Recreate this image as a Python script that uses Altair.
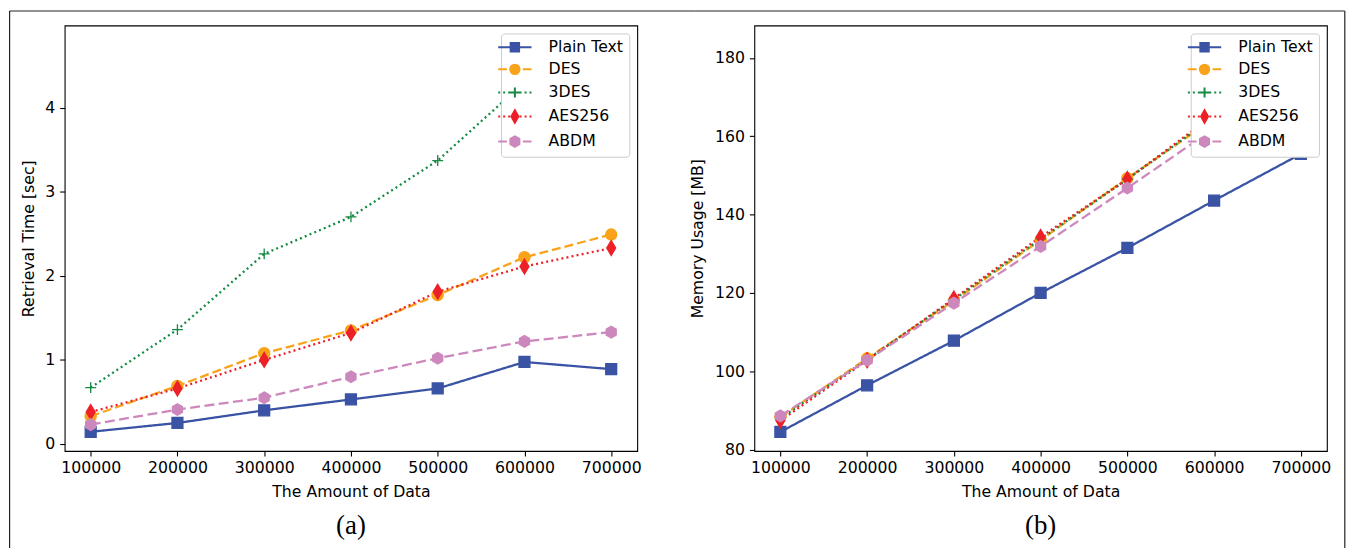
import altair as alt
import pandas as pd

# ---------------- data ----------------
x_vals = [100000, 200000, 300000, 400000, 500000, 600000, 700000]
series = ["Plain Text", "DES", "3DES", "AES256", "ABDM"]

time_plain = [0.145, 0.25, 0.40, 0.53, 0.66, 0.975, 0.89]
time_des = [0.33, 0.69, 1.08, 1.35, 1.77, 2.22, 2.49]
time_3des = [0.67, 1.36, 2.26, 2.70, 3.37, 4.30, 4.75]
time_aes = [0.38, 0.66, 1.00, 1.32, 1.81, 2.11, 2.33]
time_abdm = [0.23, 0.41, 0.55, 0.80, 1.02, 1.22, 1.33]

mem_plain = [84.5, 96.4, 107.8, 120.0, 131.5, 143.6, 155.5]
mem_des = [88.3, 103.3, 118.0, 133.5, 149.3, 164.5, 180.0]
mem_3des = [88.0, 103.0, 118.3, 133.8, 149.0, 165.0, 181.5]
mem_aes = [87.4, 102.8, 118.6, 134.3, 149.1, 165.5, 183.4]
mem_abdm = [88.6, 102.8, 117.4, 131.9, 146.8, 162.0, 177.0]

time_ticks = [0, 1, 2, 3, 4]
mem_ticks = [80, 100, 120, 140, 160, 180]

# ---------------- styles ----------------
colors = ["#3a53a4", "#f9a31b", "#148a43", "#ec2027", "#cc88bd"]
dashes = [[1, 0], [9, 4], [2, 3.2], [2, 3.2], [10, 4.5]]
marker_paths = [
    "M-1.1,-1.1H1.1V1.1H-1.1Z",
    "M1.12,0A1.12,1.12,0,1,1,-1.12,0A1.12,1.12,0,1,1,1.12,0Z",
    "M-1.1,0H1.1M0,-1.1V1.1",
    "M0,-1.5L0.9,0L0,1.5L-0.9,0Z",
    "M0,-1.17L1.01,-0.585L1.01,0.585L0,1.17L-1.01,0.585L-1.01,-0.585Z",
]


def dots(xs):
    return "".join(f"M{x},0h0.4" for x in xs)


legend_paths = [
    "M-3.35,0H3.35M-0.85,-0.85H0.85V0.85H-0.85Z",
    "M-3.35,0H-1.6M1.6,0H3.35M0.95,0A0.95,0.95,0,1,1,-0.95,0A0.95,0.95,0,1,1,0.95,0Z",
    dots([-3.35, -2.35, -1.35, 0.95, 1.95, 2.95]) + "M-1,0H1M0,-1V1",
    dots([-3.35, -2.35, -1.35, 0.95, 1.95, 2.95]) + "M0,-1.25L0.7,0L0,1.25L-0.7,0Z",
    "M-3.35,0H-1.6M1.6,0H3.35M0,-1.05L0.91,-0.525L0.91,0.525L0,1.05L-0.91,0.525L-0.91,-0.525Z",
]

FONT = "DejaVu Sans"
FS = 15.8
PANEL_GAP = 117.8


def panel(ydata, ytitle, ydomain, yticks, ytitlex, caption, top_x, top_x2, side_x):
    rows = []
    for s, vals in zip(series, ydata):
        for xv, yv in zip(x_vals, vals):
            rows.append({"amount": xv, "value": yv, "series": s})
    df = pd.DataFrame(rows)

    xenc = alt.X(
        "amount:Q",
        scale=alt.Scale(domain=[70000, 730000], nice=False, zero=False),
        axis=alt.Axis(values=x_vals, format="d", title="The Amount of Data",
                      titleY=40.6, titleBaseline="middle", labelFlush=False,
                      labelPadding=5),
    )
    yenc = alt.Y(
        "value:Q",
        scale=alt.Scale(domain=ydomain, nice=False, zero=False),
        axis=alt.Axis(values=yticks, title=ytitle, titleX=ytitlex,
                      titleBaseline="middle", labelPadding=5),
    )
    legend = alt.Legend(
        title=None, orient="top-right", offset=8, padding=6,
        fillColor="white", strokeColor="#cccccc", cornerRadius=3,
        labelFont=FONT, labelFontSize=FS, labelColor="black",
        symbolSize=100, labelOffset=26, rowPadding=4.2,
        symbolStrokeWidth=2, symbolOpacity=1,
    )
    col_scale = alt.Scale(domain=series, range=colors)

    base = alt.Chart(df)
    lines = base.mark_line(strokeWidth=2.3).encode(
        x=xenc, y=yenc,
        stroke=alt.Stroke("series:N", scale=col_scale, sort=series, legend=None),
        strokeDash=alt.StrokeDash("series:N", scale=alt.Scale(domain=series, range=dashes),
                                  sort=series, legend=None),
    )
    points = base.mark_point(filled=True, size=100, strokeWidth=1.3, opacity=1).encode(
        x=xenc, y=yenc,
        fill=alt.Fill("series:N", scale=col_scale, sort=series, legend=None),
        stroke=alt.Stroke("series:N", scale=col_scale, sort=series, legend=None),
        shape=alt.Shape("series:N", scale=alt.Scale(domain=series, range=marker_paths),
                        sort=series, legend=None),
    )
    legend_layer = base.transform_filter("false").mark_point(
        filled=True, size=100, strokeWidth=2, opacity=1).encode(
        x=xenc, y=yenc,
        fill=alt.Fill("series:N", scale=col_scale, sort=series, legend=legend),
        stroke=alt.Stroke("series:N", scale=col_scale, sort=series, legend=legend),
        shape=alt.Shape("series:N", scale=alt.Scale(domain=series, range=legend_paths),
                        sort=series, legend=legend),
    )

    fdf = pd.DataFrame({"frame": [0]})
    frame_top = alt.Chart(fdf).mark_rule(color="#222222", strokeWidth=1.2).encode(
        x=alt.value(top_x), x2=alt.value(top_x2), y=alt.value(-14.6))
    frame_side = alt.Chart(fdf).mark_rule(color="#222222", strokeWidth=1.2).encode(
        x=alt.value(side_x), y=alt.value(-14.6), y2=alt.value(526))

    return alt.layer(frame_top, frame_side, lines, points, legend_layer).resolve_scale(
        shape="independent", fill="independent", stroke="independent"
    ).properties(
        width=576, height=428,
        title=alt.TitleParams(caption, orient="bottom", anchor="middle",
                              font="Liberation Serif", fontSize=27,
                              fontWeight="normal", color="black", offset=-36,
                              frame="group"),
    )


left = panel([time_plain, time_des, time_3des, time_aes, time_abdm],
             "Retrieval Time [sec]", [-0.083, 4.975], time_ticks, -36.8, "(a)",
             -55.4, 576 + PANEL_GAP / 2, -55.4)
right = panel([mem_plain, mem_des, mem_3des, mem_aes, mem_abdm],
              "Memory Usage [MB]", [79.64, 188.3], mem_ticks, -57, "(b)",
              -PANEL_GAP / 2, 594, 594)

chart = (
    alt.hconcat(left, right, spacing=PANEL_GAP, bounds="flush")
    .resolve_scale(fill="independent", strokeDash="independent",
                   shape="independent", stroke="independent")
    .resolve_legend(fill="independent", shape="independent", stroke="independent")
    .properties(padding=0)
    .configure_view(stroke="black", strokeWidth=1.1)
    .configure_axis(labelFont=FONT, labelFontSize=FS, labelColor="black",
                    titleFont=FONT, titleFontSize=FS, titleFontWeight="normal",
                    titleColor="black", tickColor="black", tickSize=5,
                    tickWidth=1.1, domain=False, grid=False)
)

chart.save("out.html", embed_options={"renderer": "svg", "actions": False})
